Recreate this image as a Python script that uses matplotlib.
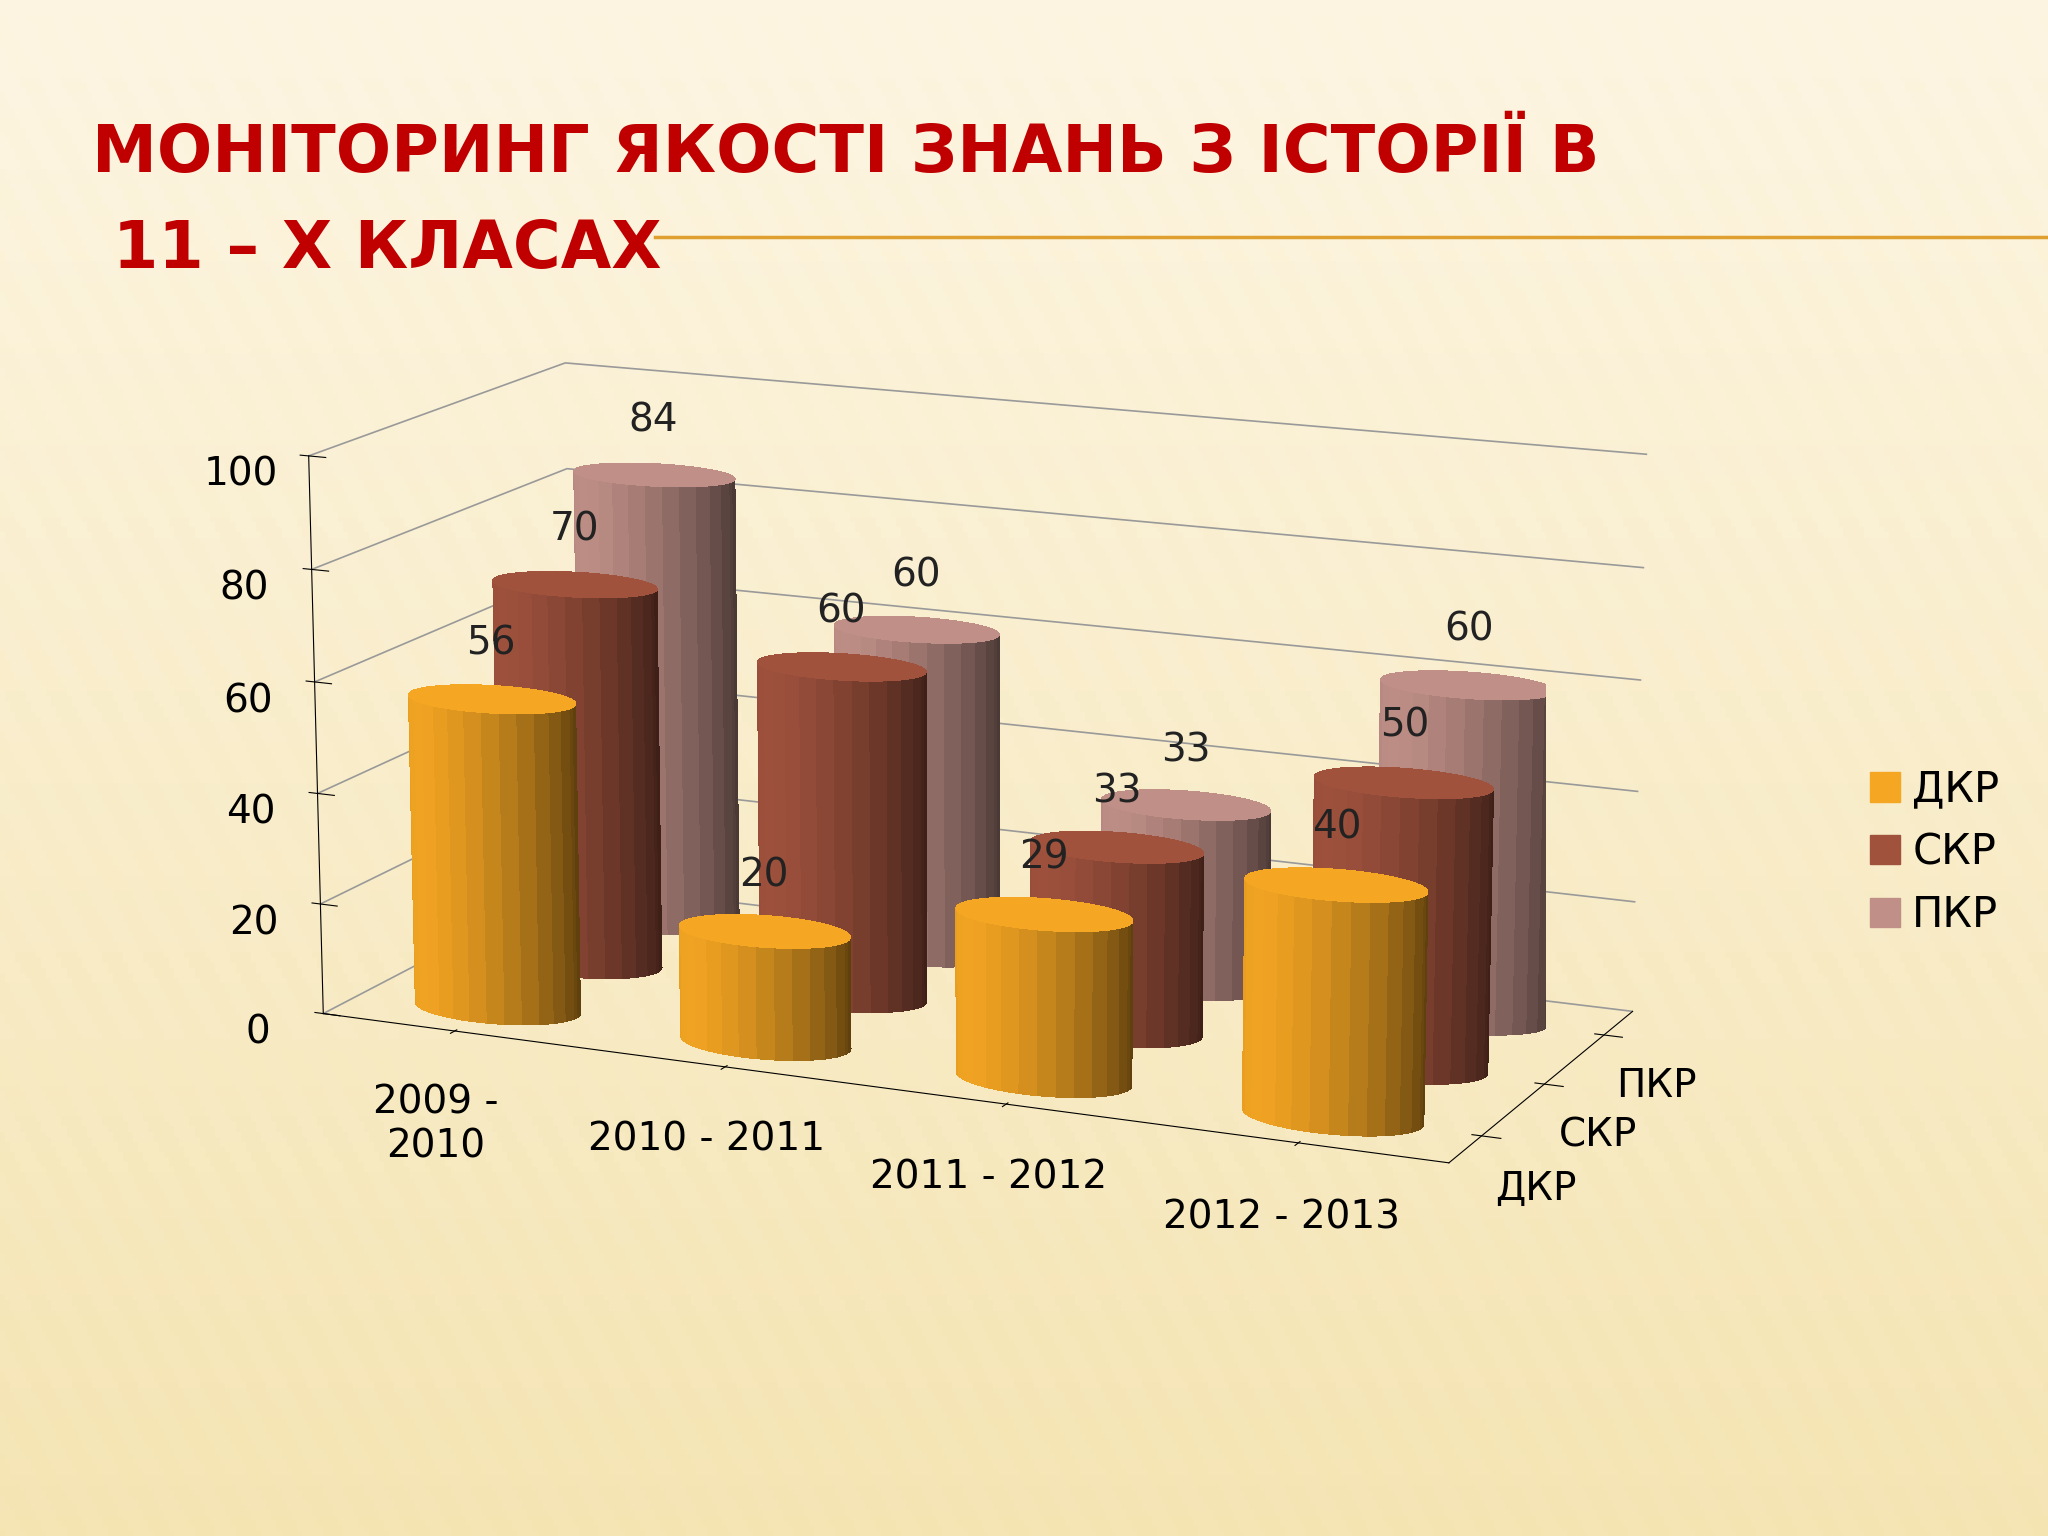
import matplotlib
matplotlib.use("Agg")
import matplotlib.pyplot as plt
import numpy as np
from matplotlib.patches import Patch

years = ["2009 -\n2010", "2010 - 2011", "2011 - 2012", "2012 - 2013"]
series = ["ДКР", "СКР", "ПКР"]
dkr = [56, 20, 29, 40]
skr = [70, 60, 33, 50]
pkr = [84, 60, 33, 60]
colors = ["#f5a623", "#a0523d", "#c09088"]

plt.rcParams["font.family"] = ["DejaVu Sans"]
fig = plt.figure(figsize=(20.48, 15.36), dpi=100)

# background gradient
bg = fig.add_axes([0, 0, 1, 1], zorder=-10)
yy = np.linspace(0, 1, 300)[:, None]
xx = np.linspace(0, 1, 400)[None, :]
stripes = 0.03 * (np.sin(xx * 300 + yy * 120) > 0)
val = 0.5 + 0.5 * yy + stripes + 0 * xx
c_top = np.array([0.99, 0.96, 0.88])
c_bot = np.array([0.93, 0.83, 0.52])
img = c_bot[None, None, :] + (c_top - c_bot)[None, None, :] * np.clip(val, 0, 1)[:, :, None]
bg.imshow(img, aspect="auto", extent=[0, 1, 0, 1], origin="lower")
bg.axis("off")

fig.text(0.045, 0.9, "МОНІТОРИНГ ЯКОСТІ ЗНАНЬ З ІСТОРІЇ В", color="#c00000",
         fontsize=47, fontweight="bold", va="center")
fig.text(0.055, 0.837, "11 – Х КЛАСАХ", color="#c00000",
         fontsize=47, fontweight="bold", va="center")
fig.add_artist(plt.Line2D([0.32, 1.0], [0.846, 0.846], color="#e0a030", lw=2.5))

ax = fig.add_axes([-0.02, 0.13, 0.98, 0.76], projection="3d")
ax.set_facecolor("none")
ax.view_init(elev=14, azim=-66)
ax.set_box_aspect((4.2, 1.9, 2.0), zoom=1.2)

theta = np.linspace(0, 2 * np.pi, 60)
r = 0.3
for j, (vals, col) in enumerate(zip([dkr, skr, pkr], colors)):
    for i, v in enumerate(vals):
        h = np.array([0, v])
        T, H = np.meshgrid(theta, h)
        X = i + r * np.cos(T)
        Y = j + r * np.sin(T)
        ax.plot_surface(X, Y, H, color=col, shade=True, linewidth=0, antialiased=False)
        ax.plot_surface(i + np.outer(np.linspace(0, r, 2), np.cos(theta)),
                        j + np.outer(np.linspace(0, r, 2), np.sin(theta)),
                        np.full((2, len(theta)), v), color=col, shade=True,
                        linewidth=0, antialiased=False)
        ax.text(i, j, v + 8, str(v), fontsize=28, ha="center", color="#222222", zorder=100)

ax.set_xlim(-0.5, 3.5)
ax.set_ylim(-0.5, 2.5)
ax.set_zlim(0, 100)
ax.set_xticks(range(4))
ax.set_xticklabels(years, fontsize=28)
ax.set_yticks(range(3))
ax.set_yticklabels(series, fontsize=28)
ax.set_zticks(range(0, 101, 20))
ax.set_zticklabels([str(t) for t in range(0, 101, 20)], fontsize=28)
for a in (ax.xaxis, ax.yaxis, ax.zaxis):
    a.set_pane_color((1, 1, 1, 0))
    a._axinfo["grid"]["color"] = (0.6, 0.6, 0.6, 1)
    a._axinfo["grid"]["linewidth"] = 1.2
ax.xaxis._axinfo["grid"]["linewidth"] = 0
ax.yaxis._axinfo["grid"]["linewidth"] = 0
ax.zaxis._axinfo["juggled"] = (1, 2, 0)
ax.tick_params(axis="x", pad=25)
ax.tick_params(axis="y", pad=12)
ax.tick_params(axis="z", pad=14)

handles = [Patch(color=c, label=s) for c, s in zip(colors, series)]
fig.legend(handles=handles, loc="center left", bbox_to_anchor=(0.895, 0.445),
           frameon=False, fontsize=30, handlelength=0.7, handleheight=0.7,
           handletextpad=0.3)

fig.savefig("out.png", dpi=100)
